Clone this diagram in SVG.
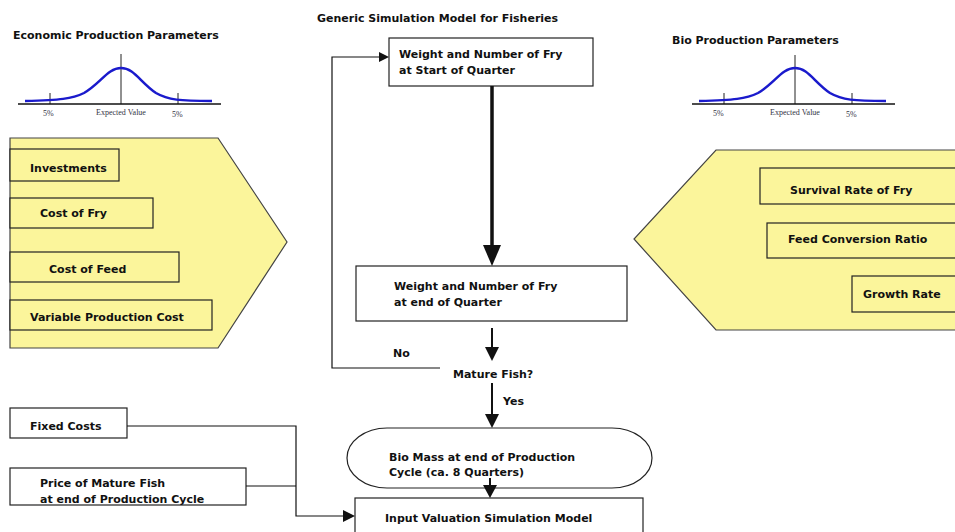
<svg xmlns="http://www.w3.org/2000/svg" width="955" height="532" viewBox="0 0 955 532">
<style>
text{font-family:"DejaVu Sans",Verdana,sans-serif;font-weight:bold;font-size:11px;fill:#111}
.small{font-family:"Liberation Serif","DejaVu Serif",serif;font-weight:normal;font-size:8px;fill:#334}
.pent{fill:#FBF59B;stroke:#444;stroke-width:1.2}
.ibox{fill:#FBF59B;stroke:#222;stroke-width:1.2}
.box{fill:#fff;stroke:#222;stroke-width:1.2}
.ln{fill:none;stroke:#111;stroke-width:1.2}
.ar{fill:none;stroke:#111;stroke-width:2}
.curve{fill:none;stroke:#1a1acc;stroke-width:2.5}
.axis{fill:none;stroke:#111;stroke-width:1.5}
.ax{fill:none;stroke:#222;stroke-width:1}
</style>

<g id="title"><text x="317" y="22">Generic Simulation Model for Fisheries</text></g>

<g id="econ-dist">
<text x="13" y="39">Economic Production Parameters</text>
<line class="ax" x1="121" y1="54" x2="121" y2="104"/>
<line class="ax" x1="50" y1="93" x2="50" y2="104"/>
<line class="ax" x1="178" y1="93" x2="178" y2="104"/>
<path class="curve" d="M25,101 C60,100 72,99 84,93 C100,84 108,68 121,68 C134,68 140,82 156,93 C168,100 180,101 212,101"/>
<line class="axis" x1="18" y1="104" x2="221" y2="104"/>
<text class="small" x="43" y="116">5%</text>
<text class="small" x="121" y="115" text-anchor="middle">Expected Value</text>
<text class="small" x="172" y="117">5%</text>
</g>

<g id="bio-dist">
<text x="672" y="44">Bio Production Parameters</text>
<line class="ax" x1="795" y1="55" x2="795" y2="104"/>
<line class="ax" x1="724" y1="93" x2="724" y2="104"/>
<line class="ax" x1="852" y1="93" x2="852" y2="104"/>
<path class="curve" d="M699,101 C734,100 746,99 758,93 C774,84 782,68 795,68 C808,68 814,82 830,93 C842,100 854,101 886,101"/>
<line class="axis" x1="692" y1="104" x2="895" y2="104"/>
<text class="small" x="713" y="116">5%</text>
<text class="small" x="795" y="115" text-anchor="middle">Expected Value</text>
<text class="small" x="846" y="117">5%</text>
</g>

<g id="econ-params">
<polygon class="pent" points="10,138 218,138 287,242 218,348 10,348"/>
</g>
<g id="investments"><rect class="ibox" x="10" y="149" width="109" height="32"/><text x="30" y="172">Investments</text></g>
<g id="cost-fry"><rect class="ibox" x="10" y="198" width="143" height="30"/><text x="40" y="217">Cost of Fry</text></g>
<g id="cost-feed"><rect class="ibox" x="10" y="252" width="169" height="30"/><text x="49" y="273">Cost of Feed</text></g>
<g id="var-cost"><rect class="ibox" x="10" y="300" width="202" height="30"/><text x="30" y="321">Variable Production Cost</text></g>

<g id="bio-params">
<polygon class="pent" points="716,150 960,150 960,330 716,330 634,239"/>
</g>
<g id="survival"><rect class="ibox" x="760" y="168" width="200" height="36"/><text x="790" y="194">Survival Rate of Fry</text></g>
<g id="fcr"><rect class="ibox" x="767" y="223" width="193" height="35"/><text x="788" y="243">Feed Conversion Ratio</text></g>
<g id="growth"><rect class="ibox" x="852" y="276" width="108" height="36"/><text x="863" y="298">Growth Rate</text></g>

<g id="start-quarter"><rect class="box" x="389" y="38" width="204" height="48"/><text x="399" y="58">Weight and Number of Fry</text><text x="399" y="74">at Start of Quarter</text></g>
<g id="end-quarter"><rect class="box" x="356" y="266" width="271" height="55"/><text x="394" y="290">Weight and Number of Fry</text><text x="394" y="306">at end of Quarter</text></g>
<g id="mature"><text x="453" y="378">Mature Fish?</text></g>
<g id="biomass"><rect class="box" x="347" y="428" width="305" height="60" rx="40" ry="30"/><text x="389" y="461">Bio Mass at end of Production</text><text x="389" y="476">Cycle (ca. 8 Quarters)</text></g>
<g id="valuation"><rect class="box" x="355" y="498" width="288" height="40"/><text x="385" y="522">Input Valuation Simulation Model</text></g>
<g id="fixed-costs"><rect class="box" x="10" y="408" width="117" height="30"/><text x="30" y="430">Fixed Costs</text></g>
<g id="price"><rect class="box" x="10" y="468" width="236" height="37"/><text x="40" y="487">Price of Mature Fish</text><text x="40" y="503">at end of Production Cycle</text></g>

<g id="connectors">
<line x1="492" y1="86" x2="492" y2="246" stroke="#111" stroke-width="3.5"/>
<polygon points="483,245 501,245 492,266" fill="#111"/>
<line class="ar" x1="492" y1="328" x2="492" y2="348"/>
<polygon points="485,347 499,347 492,361" fill="#111"/>
<polyline class="ln" points="440,368 332,368 332,57 380,57"/>
<polygon points="379,52 389,57 379,62" fill="#111"/>
<text x="393" y="357">No</text>
<line class="ar" x1="492" y1="383" x2="492" y2="415"/>
<polygon points="485,414 499,414 492,428" fill="#111"/>
<text x="503" y="405">Yes</text>
<line class="ar" x1="490" y1="478" x2="490" y2="486"/>
<polygon points="483,485 497,485 490,498" fill="#111"/>
<polyline class="ln" points="127,426 296,426 296,516 344,516"/>
<line class="ln" x1="246" y1="486" x2="296" y2="486"/>
<polygon points="343,510 355,516 343,522" fill="#111"/>
</g>
</svg>
